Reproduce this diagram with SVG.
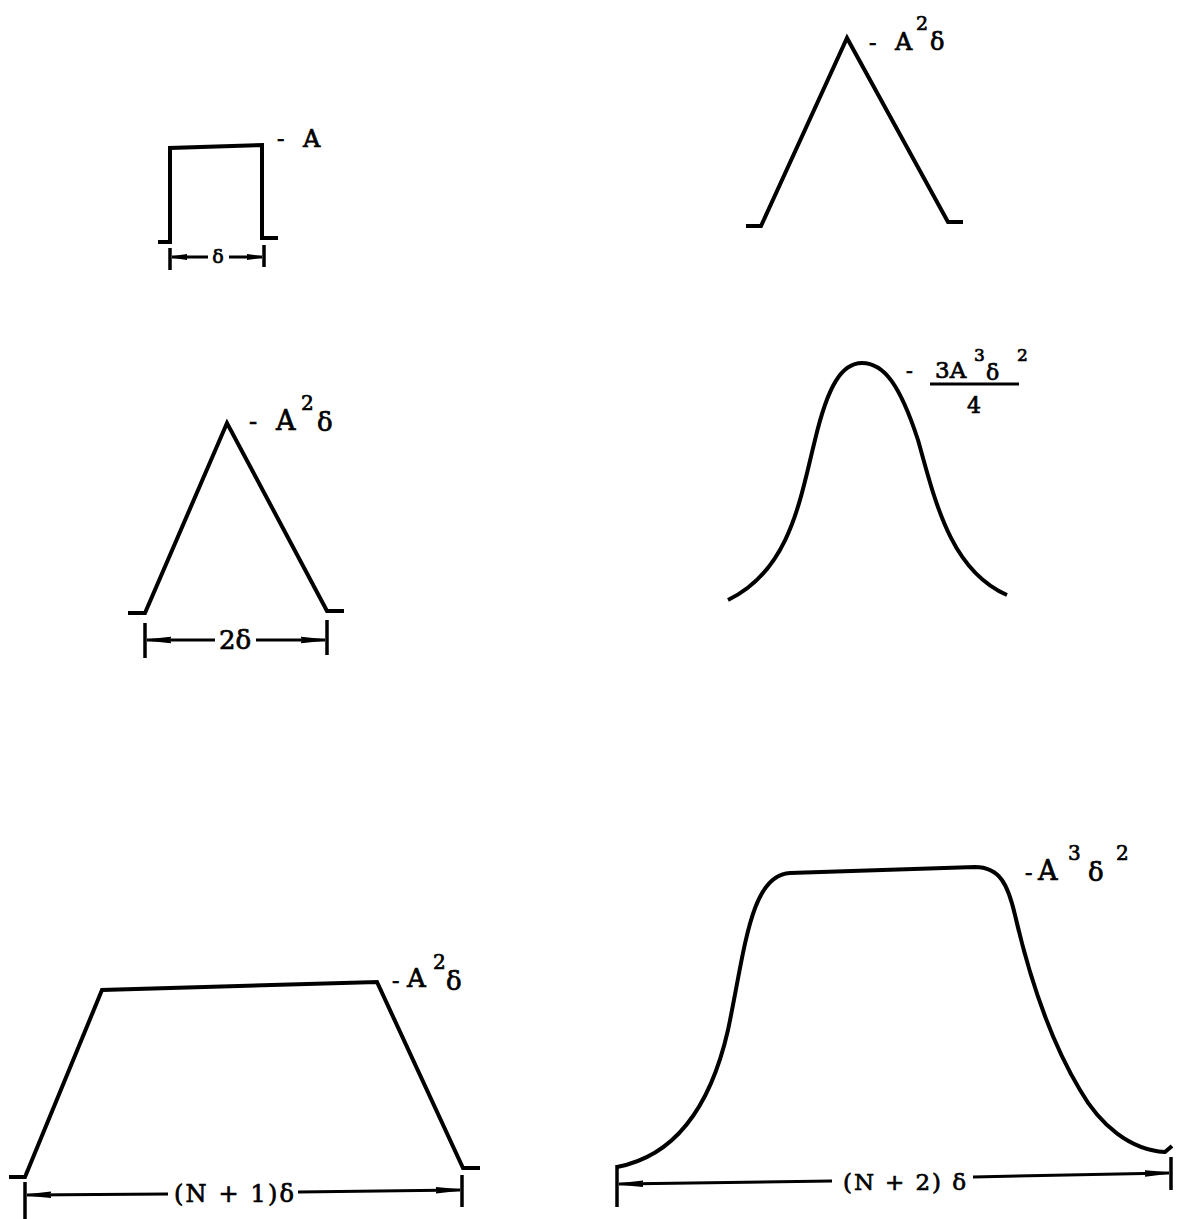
<svg xmlns="http://www.w3.org/2000/svg" width="1183" height="1219" viewBox="0 0 1183 1219">
<style>
.w{fill:none;stroke:#000;stroke-width:4;stroke-linejoin:miter;stroke-linecap:butt}
.d{fill:none;stroke:#000;stroke-width:3}
.t{stroke:#000;stroke-width:3.5}
.lb{font-family:"DejaVu Serif","Liberation Serif",serif;fill:#000;stroke:#000;stroke-width:0.7}
</style>
<defs>
<marker id="ah" viewBox="0 0 24 10" refX="24" refY="5" markerWidth="24" markerHeight="10" markerUnits="userSpaceOnUse" orient="auto">
<path d="M0,2.5 L24,5 L0,7.5 L5,5 Z" fill="#000" stroke="#000" stroke-width="1.5"/>
</marker>
<marker id="ahs" viewBox="0 0 15 8" refX="15" refY="4" markerWidth="15" markerHeight="8" markerUnits="userSpaceOnUse" orient="auto">
<path d="M0,1.8 L15,4 L0,6.2 Z" fill="#000" stroke="#000" stroke-width="1.5"/>
</marker>
</defs>
<rect width="1183" height="1219" fill="#fff"/>

<g id="pulse-A">
<path class="w" d="M158,242 L170,242 L170,148 L262,145 L262,238 L278,238"/>
<text class="lb" x="277" y="146" font-size="22">-</text>
<text class="lb" x="303" y="147" font-size="24">A</text>
</g>

<g id="triangle-top">
<path class="w" d="M746,226 L761,226 L847,38 L948,222 L963,222"/>
<text class="lb" x="869" y="50" font-size="22">-</text>
<text class="lb" x="895" y="50" font-size="24">A</text>
<text class="lb" x="916" y="30" font-size="19">2</text>
<text class="lb" x="930" y="50" font-size="24">δ</text>
</g>

<g id="triangle-2delta">
<path class="w" d="M128,613 L145,613 L227,423 L327,611 L344,611"/>
<text class="lb" x="249" y="430" font-size="24">-</text>
<text class="lb" x="276" y="430" font-size="27">A</text>
<text class="lb" x="301" y="410" font-size="20">2</text>
<text class="lb" x="317" y="431" font-size="26">δ</text>
</g>

<g id="bell">
<path class="w" d="M728,600 C790,570 800,500 815,440 C828,385 842,363 862,363 C884,363 900,385 918,440 C935,500 950,570 1007,595"/>
<text class="lb" x="906" y="378" font-size="20">-</text>
<text class="lb" x="935" y="378" font-size="23">3A</text>
<text class="lb" x="974" y="361" font-size="17">3</text>
<text class="lb" x="986" y="380" font-size="22">δ</text>
<text class="lb" x="1017" y="361" font-size="17">2</text>
<line x1="930" y1="384" x2="1019" y2="384" stroke="#000" stroke-width="3"/>
<text class="lb" x="967" y="413" font-size="22">4</text>
</g>

<g id="trapezoid">
<path class="w" d="M9,1177 L25,1177 L102,990 L377,982 L463,1168 L480,1168"/>
<text class="lb" x="392" y="988" font-size="22">-</text>
<text class="lb" x="407" y="987" font-size="26">A</text>
<text class="lb" x="433" y="969" font-size="20">2</text>
<text class="lb" x="446" y="990" font-size="26">δ</text>
</g>

<g id="plateau">
<path class="w" d="M617,1167 C680,1155 712,1100 728,1030 C745,950 750,875 790,873 L975,867 C1000,867 1008,885 1015,915 C1030,980 1050,1040 1080,1090 C1100,1125 1130,1150 1165,1152 L1172,1146"/>
<text class="lb" x="1025" y="880" font-size="22">-</text>
<text class="lb" x="1038" y="880" font-size="27">A</text>
<text class="lb" x="1068" y="860" font-size="20">3</text>
<text class="lb" x="1088" y="881" font-size="26">δ</text>
<text class="lb" x="1116" y="860" font-size="20">2</text>
</g>

<g id="connectors">
<line class="t" x1="170" y1="248" x2="170" y2="270"/>
<line class="t" x1="264" y1="245" x2="264" y2="267"/>
<line class="d" x1="208" y1="257" x2="172" y2="257" marker-end="url(#ahs)"/>
<line class="d" x1="229" y1="257" x2="262" y2="257" marker-end="url(#ahs)"/>
<text class="lb" x="218" y="263" font-size="19" text-anchor="middle">δ</text>

<line class="t" x1="145" y1="623" x2="145" y2="658"/>
<line class="t" x1="327" y1="620" x2="327" y2="655"/>
<line class="d" x1="215" y1="640" x2="147" y2="640" marker-end="url(#ah)"/>
<line class="d" x1="256" y1="640" x2="325" y2="640" marker-end="url(#ah)"/>
<text class="lb" x="235" y="649" font-size="26" text-anchor="middle">2δ</text>

<line class="t" x1="25" y1="1182" x2="25" y2="1219"/>
<line class="t" x1="462" y1="1175" x2="462" y2="1207"/>
<line class="d" x1="168" y1="1194" x2="27" y2="1195" marker-end="url(#ah)"/>
<line class="d" x1="298" y1="1192" x2="460" y2="1190" marker-end="url(#ah)"/>
<text class="lb" x="174" y="1202" font-size="24" textLength="120">(N + 1)δ</text>

<line class="t" x1="617" y1="1165" x2="617" y2="1207"/>
<line class="t" x1="1171" y1="1157" x2="1171" y2="1190"/>
<line class="d" x1="832" y1="1181" x2="619" y2="1184" marker-end="url(#ah)"/>
<line class="d" x1="973" y1="1177" x2="1169" y2="1173" marker-end="url(#ah)"/>
<text class="lb" x="843" y="1190" font-size="23" textLength="123">(N + 2) δ</text>
</g>
</svg>
